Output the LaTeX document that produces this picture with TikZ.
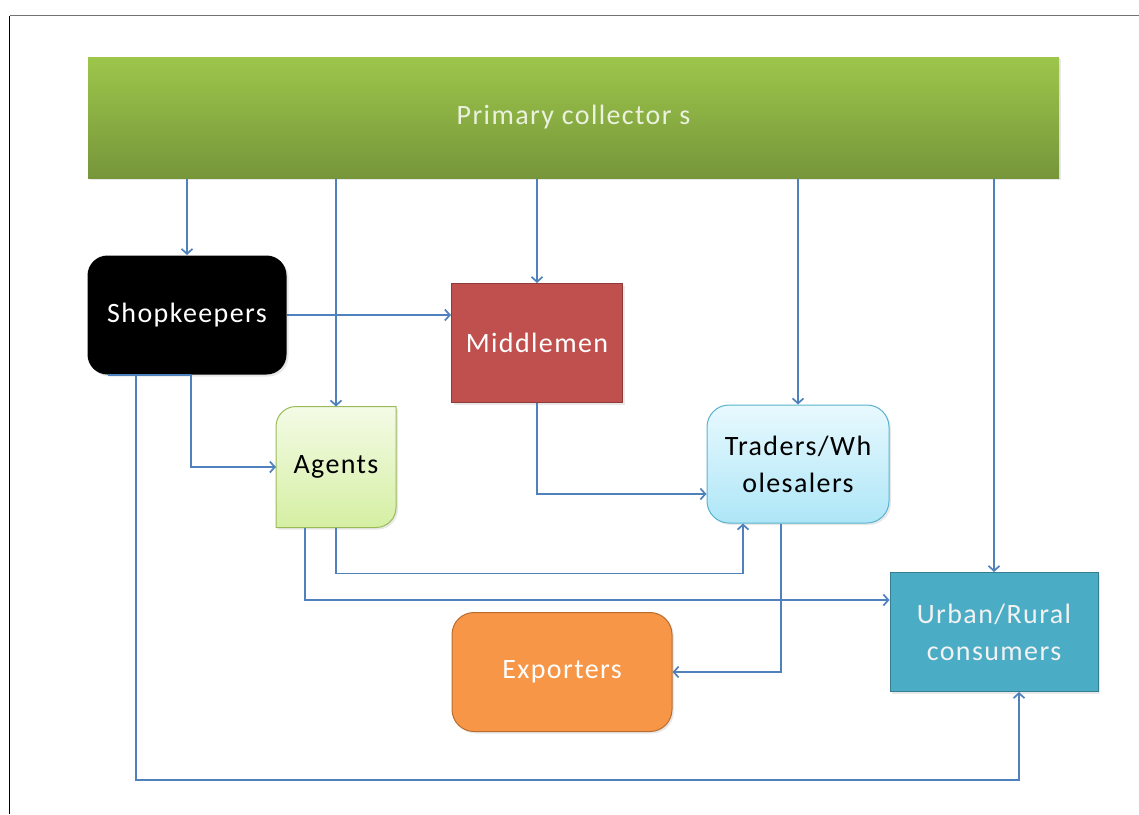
\documentclass[tikz,border=0pt]{standalone}
\usepackage{fontspec}
\setmainfont[LetterSpace=5]{Carlito}
\usepackage{xcolor}
\usetikzlibrary{arrows.meta,positioning,shadows,backgrounds}

\definecolor{linkblue}{HTML}{4F81BD}
\definecolor{primtop}{HTML}{9DC64B}
\definecolor{primbot}{HTML}{76963A}
\definecolor{primtext}{HTML}{EBF1DE}
\definecolor{midfill}{HTML}{C0504D}
\definecolor{midline}{HTML}{8E3B39}
\definecolor{agtop}{HTML}{F4FBE6}
\definecolor{agbot}{HTML}{D5EFA3}
\definecolor{agline}{HTML}{9BBB59}
\definecolor{trtop}{HTML}{E8F9FE}
\definecolor{trbot}{HTML}{AEE6F7}
\definecolor{trline}{HTML}{58B4CE}
\definecolor{urbfill}{HTML}{4BACC6}
\definecolor{urbline}{HTML}{357E92}
\definecolor{expfill}{HTML}{F79646}
\definecolor{expline}{HTML}{B86D2F}

\newcommand{\boxfont}{\fontsize{28}{37}\selectfont}

\begin{document}
\begin{tikzpicture}[x=1pt, y=-1pt, >={Straight Barb[length=5pt,width=11pt]}]
    \tikzstyle{box}=[rectangle, inner sep=0pt, align=center, font=\boxfont, line width=1pt]
    \tikzstyle{shade}=[drop shadow={opacity=0.18, shadow xshift=2pt, shadow yshift=-2pt}]
    \tikzstyle{flow}=[->, draw=linkblue, line width=1.7pt]

    \useasboundingbox (0,0) rectangle (1139,814);
    \draw[line width=1.5pt, black] (9.5,814) -- (9.5,15.5);
    \draw[line width=1.5pt, black!55] (9.5,15.5) -- (1139,15.5);

    \node[box, shade, minimum width=971pt, minimum height=121pt, top color=primtop, bottom color=primbot, text=primtext] (primary) at (573.5,117.5) {Primary collector s};
    \node[box, shade, minimum width=199pt, minimum height=119pt, fill=black, rounded corners=20pt, text=white] (shop) at (187,315) {Shopkeepers};
    \node[box, shade, minimum width=171pt, minimum height=119pt, fill=midfill, draw=midline, text=white] (middle) at (537,343) {Middlemen};
    \node[box, minimum width=119pt, minimum height=120pt, text=black] (agents) at (336,467) {Agents};
    \node[box, shade, minimum width=182pt, minimum height=118pt, top color=trtop, bottom color=trbot, draw=trline, rounded corners=22pt, text=black] (traders) at (798,464) {Traders/Wh\\olesalers};
    \node[box, shade, minimum width=208pt, minimum height=119pt, fill=urbfill, draw=urbline, text=white!95!black] (urban) at (994,632) {Urban/Rural\\consumers};
    \node[box, shade, minimum width=220pt, minimum height=119pt, fill=expfill, draw=expline, rounded corners=22pt, text=white] (export) at (562,672) {Exporters};

    % agents box: two round corners
    \begin{scope}[on background layer]
      \path[shade, draw=agline, line width=1pt, top color=agtop, bottom color=agbot]
        (agents.south west) [rounded corners=20pt] -- (agents.north west)
        [sharp corners] -- (agents.north east)
        [rounded corners=20pt] -- (agents.south east)
        [sharp corners] -- cycle;
    \end{scope}

    % from the primary collectors
    \path
    (primary.south -| shop.north)    edge [flow] (shop.north)
    (primary.south -| agents.north)  edge [flow] (agents.north)
    (primary.south -| middle.north)  edge [flow] (middle.north)
    (primary.south -| traders.north) edge [flow] (traders.north)
    (primary.south -| urban.north)   edge [flow] (urban.north);

    \draw[flow] (shop.east) -- (shop.east -| middle.west);
    \draw[flow, -] ([xshift=-79]shop.south) -- ([xshift=4]shop.south);
    \draw[flow] ([xshift=4]shop.south) |- (agents.west);
    \draw[flow] ([xshift=-51]shop.south) -- ++(0,405) -| ([xshift=25]urban.south);
    \draw[flow] (middle.south) |- ([yshift=-30]traders.west);
    \draw[flow] (agents.south) -- ++(0,46) -| ([xshift=-55]traders.south);
    \draw[flow] ([xshift=-31]agents.south) |- ([yshift=32]urban.west);
    \draw[flow] ([xshift=-17]traders.south) |- (export.east);

\end{tikzpicture}
\end{document}
